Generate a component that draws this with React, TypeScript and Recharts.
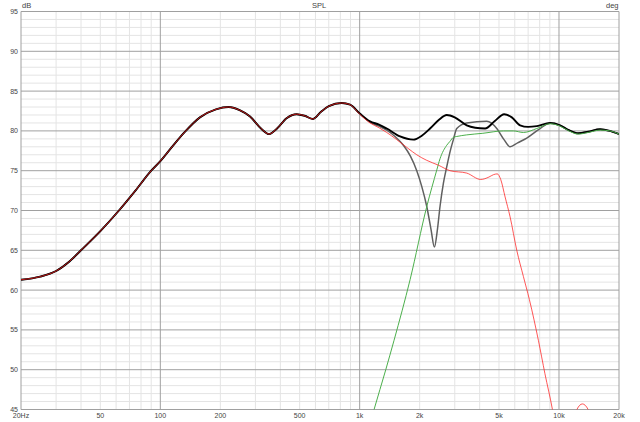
import React from "react";
import { LineChart, Line, XAxis, YAxis, CartesianGrid } from "recharts";

// Frequencies (Hz) and SPL (dB) per series
const totalFreq = [20, 25, 30, 35, 40, 50, 62, 75, 90, 100, 112, 133, 158, 190, 220, 250, 282, 320, 351, 385, 430, 483, 530, 582, 640, 700, 813, 895, 1000, 1127, 1250, 1368, 1595, 1860, 2050, 2255, 2500, 2735, 3000, 3445, 3800, 4257, 4750, 5305, 5800, 6380, 7000, 7740, 9020, 10130, 11200, 12500, 14000, 16100, 18000, 20000];
const totalSpl = [61.3, 61.7, 62.4, 63.6, 65.0, 67.4, 70.0, 72.5, 75.0, 76.2, 77.7, 79.9, 81.7, 82.7, 83.0, 82.6, 81.8, 80.3, 79.6, 80.3, 81.6, 82.1, 81.9, 81.5, 82.4, 83.1, 83.5, 83.3, 82.2, 81.2, 80.8, 80.3, 79.3, 78.9, 79.4, 80.3, 81.4, 82.0, 81.7, 80.7, 80.4, 80.3, 81.2, 82.1, 81.7, 80.7, 80.5, 80.6, 81.0, 80.7, 80.1, 79.7, 79.9, 80.2, 80.0, 79.6];

const invertedFreq = [20, 25, 30, 35, 40, 50, 62, 75, 90, 100, 112, 133, 158, 190, 220, 250, 282, 320, 351, 385, 430, 483, 530, 582, 640, 700, 813, 895, 1000, 1127, 1250, 1368, 1505, 1657, 1800, 1934, 2050, 2171, 2281, 2371, 2455, 2530, 2630, 2735, 2842, 2952, 3070, 3445, 4345, 4875, 5300, 5685, 6200, 6890, 8040, 9020, 10130, 11200, 12500, 14000, 16100, 18000, 20000];
const invertedSpl = [61.3, 61.7, 62.4, 63.6, 65.0, 67.4, 70.0, 72.5, 75.0, 76.2, 77.7, 79.9, 81.7, 82.7, 83.0, 82.6, 81.8, 80.3, 79.6, 80.3, 81.6, 82.1, 81.9, 81.5, 82.4, 83.1, 83.5, 83.3, 82.2, 81.1, 80.6, 80.1, 79.3, 78.2, 76.8, 75.0, 73.0, 70.5, 67.6, 65.4, 67.6, 70.5, 73.4, 75.5, 77.4, 78.9, 80.3, 81.0, 81.2, 80.3, 78.9, 78.0, 78.5, 79.1, 80.3, 81.0, 80.7, 80.1, 79.7, 79.9, 80.2, 80.0, 79.6];

const wooferFreq = [20, 25, 30, 35, 40, 50, 62, 75, 90, 100, 112, 133, 158, 190, 220, 250, 282, 320, 351, 385, 430, 483, 530, 582, 640, 700, 813, 895, 1000, 1127, 1250, 1368, 1535, 1750, 1934, 2171, 2480, 2842, 3445, 4050, 4450, 4690, 4900, 5100, 5366, 5685, 6140, 6630, 7105, 7880, 8500, 9270, 10000, 10800, 11500, 12300, 13100, 14000, 15000, 16000, 18000, 20000];
const wooferSpl = [61.3, 61.7, 62.4, 63.6, 65.0, 67.4, 70.0, 72.5, 75.0, 76.2, 77.7, 79.9, 81.7, 82.7, 83.0, 82.6, 81.8, 80.3, 79.6, 80.3, 81.6, 82.1, 81.9, 81.5, 82.4, 83.1, 83.5, 83.3, 82.1, 81.0, 80.4, 79.8, 78.9, 77.8, 77.0, 76.3, 75.7, 75.0, 74.7, 73.9, 74.2, 74.5, 74.6, 73.9, 71.7, 69.2, 65.0, 61.7, 58.8, 53.7, 49.5, 45.0, 40.0, 36.0, 39.0, 45.0, 45.7, 45.0, 41.0, 36.0, 30.0, 25.0];

const tweeterFreq = [1000, 1181, 1352, 1488, 1790, 2171, 2438, 2530, 2735, 2842, 2952, 3070, 3445, 4150, 5265, 5900, 6630, 7740, 9020, 10130, 11200, 12500, 14000, 16100, 18000, 20000];
const tweeterSpl = [38.5, 45.0, 50.0, 53.7, 61.3, 70.5, 75.1, 76.5, 78.2, 78.7, 79.2, 79.3, 79.5, 79.7, 80.0, 80.0, 79.8, 80.3, 80.9, 80.6, 80.0, 79.6, 79.8, 80.1, 80.0, 79.6];

// Axis ticks
const freqTicks = [20, 50, 100, 200, 500, 1000, 2000, 5000, 10000, 20000];
const freqLabels = ["20Hz", "50", "100", "200", "500", "1k", "2k", "5k", "10k", "20k"];
const dbTicks = [45, 50, 55, 60, 65, 70, 75, 80, 85, 90, 95];
const degTicks = [-180, -144, -108, -72, -36, 0, 36, 72, 108, 144, 180];
const freqMajorGrid = [20, 100, 1000, 10000, 20000];
const freqMinorGrid = [30, 40, 50, 60, 70, 80, 90, 200, 300, 400, 500, 600, 700, 800, 900, 2000, 3000, 4000, 5000, 6000, 7000, 8000, 9000];
const dbMinorGrid = Array.from({ length: 49 }, (_, i) => 46 + i).filter((v) => v % 5 !== 0);

const toPoints = (f: number[], v: number[]) => f.map((x, i) => ({ f: x, v: v[i] }));
const totalData = toPoints(totalFreq, totalSpl);
const invertedData = toPoints(invertedFreq, invertedSpl);
const wooferData = toPoints(wooferFreq, wooferSpl);
const tweeterData = toPoints(tweeterFreq, tweeterSpl);

const FONT = "'Liberation Sans', Arial, sans-serif";
const tickStyle = { fontSize: 7, fill: "#444", fontFamily: FONT };

export default function App() {
  return (
    <div style={{ position: "absolute", left: 0, top: 0, width: 640, height: 422, background: "#fff", fontFamily: FONT }}>
      <LineChart width={640} height={422} margin={{ top: 11.5, right: 0, bottom: 0, left: 0 }}>
        <CartesianGrid
          xAxisId="f"
          yAxisId="db"
          stroke="#e4e4e4"
          strokeWidth={1}
          verticalValues={freqMinorGrid}
          horizontalValues={dbMinorGrid}
        />
        <CartesianGrid
          xAxisId="f"
          yAxisId="db"
          stroke="#a0a0a0"
          strokeWidth={1}
          verticalValues={freqMajorGrid}
          horizontalValues={dbTicks}
        />
        <XAxis
          xAxisId="f"
          dataKey="f"
          type="number"
          scale="log"
          domain={[20, 20000]}
          allowDataOverflow
          ticks={freqTicks}
          tickFormatter={(v: number) => freqLabels[freqTicks.indexOf(v)] ?? String(v)}
          tick={tickStyle}
          tickLine={false}
          tickSize={2}
          tickMargin={2}
          axisLine={false}
          height={12.5}
          interval={0}
        />
        <YAxis
          yAxisId="db"
          orientation="left"
          type="number"
          domain={[45, 95]}
          allowDataOverflow
          ticks={dbTicks}
          tick={tickStyle}
          tickLine={false}
          tickSize={1}
          tickMargin={2}
          axisLine={false}
          width={21}
          interval={0}
        />
        <YAxis
          yAxisId="deg"
          orientation="right"
          type="number"
          domain={[-180, 180]}
          ticks={degTicks}
          tick={{ ...tickStyle, textAnchor: "start" }}
          tickLine={false}
          tickSize={1}
          tickMargin={2}
          axisLine={false}
          width={21}
          interval={0}
        />
        <Line xAxisId="f" yAxisId="db" data={invertedData} dataKey="v" type="monotone" stroke="#606060" strokeWidth={1.5} dot={false} activeDot={false} isAnimationActive={false} />
        <Line xAxisId="f" yAxisId="db" data={totalData} dataKey="v" type="monotone" stroke="#000000" strokeWidth={1.9} dot={false} activeDot={false} isAnimationActive={false} />
        <Line xAxisId="f" yAxisId="db" data={tweeterData} dataKey="v" type="monotone" stroke="#4caf4c" strokeWidth={1} dot={false} activeDot={false} isAnimationActive={false} />
        <Line xAxisId="f" yAxisId="db" data={wooferData} dataKey="v" type="monotone" stroke="#ff1f1f" strokeOpacity={0.75} strokeWidth={1} dot={false} activeDot={false} isAnimationActive={false} />
      </LineChart>
      <span style={{ position: "absolute", left: 312, top: 1, fontSize: 7.5, color: "#444" }}>SPL</span>
      <span style={{ position: "absolute", left: 22, top: 1, fontSize: 7.5, color: "#444" }}>dB</span>
      <span style={{ position: "absolute", left: 606, top: 1, fontSize: 7.5, color: "#444" }}>deg</span>
    </div>
  );
}
